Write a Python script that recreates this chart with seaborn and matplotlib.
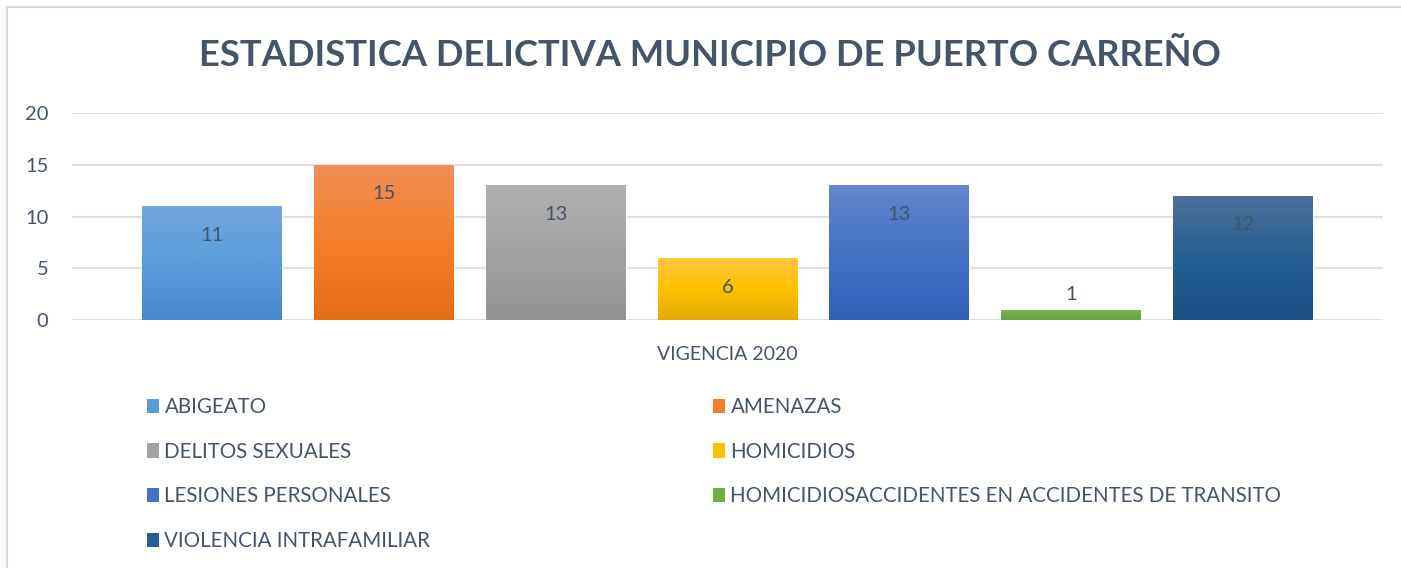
import numpy as np
import pandas as pd
import matplotlib
matplotlib.use('Agg')
import matplotlib.pyplot as plt
from matplotlib.colors import LinearSegmentedColormap
from matplotlib.patches import Patch, Rectangle
import seaborn as sns

# Chart data
periodo = 'VIGENCIA 2020'
delitos = ['ABIGEATO', 'AMENAZAS', 'DELITOS SEXUALES', 'HOMICIDIOS',
           'LESIONES PERSONALES',
           'HOMICIDIOSACCIDENTES EN ACCIDENTES DE TRANSITO',
           'VIOLENCIA INTRAFAMILIAR']
casos = [11, 15, 13, 6, 13, 1, 12]

# Excel-like gradient colours (top, middle, bottom)
gradients = [
    ('#72A6DD', '#5B9BDD', '#4589CB'),
    ('#F08E56', '#F47F2A', '#E46C17'),
    ('#B0B0B0', '#A3A3A3', '#939393'),
    ('#FFC944', '#FFC000', '#E5AC00'),
    ('#6386CE', '#4472C4', '#2F5FB8'),
    ('#7FB95B', '#70AD47', '#64A23E'),
    ('#4E7199', '#255E91', '#1A4F86'),
]
text_color = '#44546A'

df = pd.DataFrame({'periodo': periodo, 'delito': delitos, 'casos': casos})

sns.set_style('white')
plt.rcParams['font.family'] = ['Lato', 'DejaVu Sans']

fig = plt.figure(figsize=(14.01, 5.68), dpi=100)
W, H = 1401, 568
ax = fig.add_axes([72 / W, 1 - 320 / H, (1383 - 72) / W, (320 - 113) / H])

palette = [g[1] for g in gradients]
sns.barplot(data=df, x='periodo', y='casos', hue='delito', hue_order=delitos,
            palette=palette, width=0.918, gap=0.186, legend=False,
            saturation=1, ax=ax)

ax.set_ylim(0, 20)
ax.set_yticks([0, 5, 10, 15, 20])
ax.yaxis.grid(True, color='#DCE0E6', linewidth=1.5)
ax.set_axisbelow(True)
for s in ax.spines.values():
    s.set_visible(False)
ax.tick_params(axis='y', length=0, pad=17, labelsize=14.5, labelcolor=text_color)
ax.tick_params(axis='x', length=0, pad=19, labelsize=14, labelcolor=text_color)
ax.set_xlabel('')
ax.set_ylabel('')

# gradient fill on every bar (light on top) + data labels
xlim, ylim = ax.get_xlim(), ax.get_ylim()
for patch, cols, val in zip(ax.patches, gradients, casos):
    x0, y0 = patch.get_x(), patch.get_y()
    w, h = patch.get_width(), patch.get_height()
    cmap = LinearSegmentedColormap.from_list('g', [cols[0], cols[1], cols[2]])
    grad = np.linspace(0, 1, 256).reshape(-1, 1)
    im = ax.imshow(grad, cmap=cmap, aspect='auto', extent=[x0, x0 + w, y0, y0 + h],
                   origin='upper', zorder=patch.get_zorder() + 0.1)
    im.set_clip_path(patch)
    if val >= 3:
        off = -21
    else:
        off = 11
    ax.annotate(str(val), (x0 + w / 2, y0 + h), xytext=(0, off),
                textcoords='offset points', ha='center', va='center',
                fontsize=14.5, color=text_color, zorder=5)
ax.set_xlim(xlim)
ax.set_ylim(ylim)

# title
fig.text(710 / W, 1 - 56 / H, 'ESTADISTICA DELICTIVA MUNICIPIO DE PUERTO CARREÑO',
         ha='center', va='center', fontsize=26.2, fontweight='bold', color=text_color)

# legend in two columns, row-major like Excel
handles = [Patch(facecolor=g[1], edgecolor='none') for g in gradients]
leg_kw = dict(frameon=False, fontsize=14.8, labelcolor=text_color,
              handlelength=0.6, handleheight=0.7, handletextpad=0.25,
              labelspacing=1.2, borderpad=0, borderaxespad=0, loc='upper left')
left_idx = [0, 2, 4, 6]
right_idx = [1, 3, 5]
leg1 = fig.legend([handles[i] for i in left_idx], [delitos[i] for i in left_idx],
                  bbox_to_anchor=(147 / W, 1 - 397 / H), **leg_kw)
leg2 = fig.legend([handles[i] for i in right_idx], [delitos[i] for i in right_idx],
                  bbox_to_anchor=(713 / W, 1 - 397 / H), **leg_kw)

# chart area border (only left and top visible in the crop)
fig.patches.append(Rectangle((7 / W, -0.1), 1.2, (1 - 7 / H) + 0.1,
                             transform=fig.transFigure, fill=False,
                             edgecolor='#D9D9D9', linewidth=1.5))

fig.savefig('out.png', dpi=100)
